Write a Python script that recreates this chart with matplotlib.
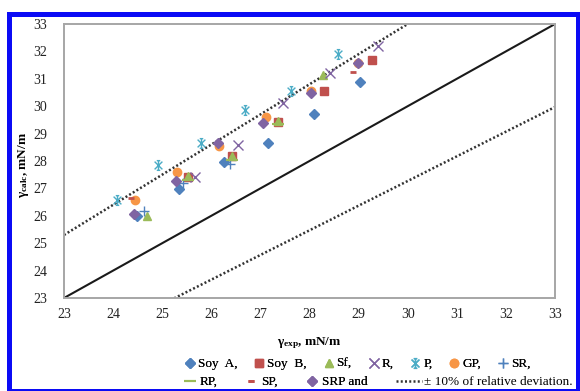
import matplotlib
matplotlib.use("Agg")
import matplotlib.pyplot as plt
import numpy as np
from matplotlib.path import Path
from matplotlib.lines import Line2D
from matplotlib.patches import Rectangle

plt.rcParams['font.family'] = ['Liberation Serif', 'DejaVu Serif']
plt.rcParams['mathtext.fontset'] = 'custom'
plt.rcParams['mathtext.rm'] = 'Liberation Serif'
plt.rcParams['mathtext.it'] = 'Liberation Serif:italic'
plt.rcParams['mathtext.bf'] = 'Liberation Serif:bold'

# ---- data ----
soyA_x = [24.49, 25.35, 26.26, 27.15, 28.09, 29.03]
soyA_y = [25.98, 26.96, 27.97, 28.66, 29.73, 30.89]
soyB_x = [25.53, 26.43, 27.35, 28.30, 29.27]
soyB_y = [27.42, 28.17, 29.43, 30.56, 31.68]
sf_x = [24.70, 25.53, 26.43, 27.35, 28.28]
sf_y = [25.98, 27.45, 28.20, 29.45, 31.14]
r_x = [25.67, 26.55, 27.47, 28.42, 29.40]
r_y = [27.42, 28.60, 30.12, 31.20, 32.20]
p_x = [24.07, 24.92, 25.79, 26.69, 27.62, 28.59]
p_y = [26.59, 27.84, 28.64, 29.86, 30.54, 31.90]
gp_x = [24.45, 25.31, 26.16, 27.11, 28.03, 28.99]
gp_y = [26.56, 27.60, 28.54, 29.59, 30.55, 31.58]
sr_x = [24.62, 25.43, 26.38]
sr_y = [26.17, 27.18, 27.88]
rp_x = [25.53, 26.43, 27.35]
rp_y = [27.30, 28.05, 29.35]
sp_x = [24.36, 28.88]
sp_y = [26.66, 31.26]
srp_x = [24.43, 25.28, 26.14, 27.06, 28.03, 28.99]
srp_y = [26.08, 27.27, 28.64, 29.39, 30.50, 31.56]

axis_min, axis_max = 23, 33
ticks = list(range(23, 34))
dev_hi = 1.10
dev_lo = 0.90

# ---- figure ----
W, H = 580, 391
fig = plt.figure(figsize=(W / 100, H / 100), dpi=100)
ax = fig.add_axes([64 / W, 1 - 298 / H, 491 / W, 274 / H])

DOT = (0, (0.8, 0.9))
# reference lines
xl = np.array([axis_min, axis_max], dtype=float)
ax.plot(xl, xl, color='#1a1a1a', lw=1.5, zorder=1)
ax.plot(xl, dev_hi * xl, color='#333333', lw=1.8, ls=DOT, zorder=1)
ax.plot(xl, dev_lo * xl + 0.27, color='#333333', lw=1.8, ls=DOT, zorder=1)

star = Path([(-1, -1), (1, 1), (-1, 1), (1, -1), (0, -1.25), (0, 1.25),
             (-0.45, 1.25), (0.45, 1.25), (-0.45, -1.25), (0.45, -1.25)],
            [Path.MOVETO, Path.LINETO] * 5)

ms = 6
h_soyA, = ax.plot(soyA_x, soyA_y, 'D', color='#4F81BD', ms=5.3, label='Soy  A,')
h_soyB, = ax.plot(soyB_x, soyB_y, 's', color='#C0504D', ms=ms, label='Soy  B,')
h_sf, = ax.plot(sf_x, sf_y, '^', color='#9BBB59', ms=ms, label='Sf,')
h_r, = ax.plot(r_x, r_y, 'x', color='#8064A2', ms=7, mew=1.0, label='R,')
h_p, = ax.plot(p_x, p_y, ls='none', marker=star, color='#4BACC6', mfc='none',
               ms=7, mew=1.0, label='P,')
h_gp, = ax.plot(gp_x, gp_y, 'o', color='#F79646', ms=ms, label='GP,')
h_sr, = ax.plot(sr_x, sr_y, '+', color='#4F81BD', ms=7, mew=1.0, label='SR,')
h_rp, = ax.plot(rp_x, rp_y, '_', color='#9BBB59', ms=8, mew=1.5, label='RP,')
h_sp, = ax.plot(sp_x, sp_y, '_', color='#C0504D', ms=4, mew=2.0, label='SP,')
h_srp, = ax.plot(srp_x, srp_y, 'D', color='#8064A2', ms=5.3, label='SRP and')

ax.set_xlim(axis_min, axis_max)
ax.set_ylim(axis_min, axis_max)
ax.set_xticks(ticks)
ax.set_yticks(ticks)
ax.tick_params(length=0, labelsize=10, colors='#222222')
ax.tick_params(axis='x', pad=7)
ax.tick_params(axis='y', pad=12)
for s in ax.spines.values():
    s.set_color('#a6a6a6')
    s.set_linewidth(1.4)

ax.set_xlabel(r'γ$_{\mathbf{exp}}$, mN/m', fontsize=9.5, fontweight='bold')
ax.set_ylabel(r'γ$_{\mathbf{calc}}$, mN/m', fontsize=9.5, fontweight='bold')
ax.xaxis.set_label_coords(0.5, (298 - 335) / 274)
ax.yaxis.set_label_coords((31 - 64) / 491, (298 - 165) / 274)

# legends (two rows, flowing like the original)
common = dict(loc='center left', frameon=False, borderpad=0, borderaxespad=0,
              fontsize=9.5, numpoints=1)
leg1 = fig.legend(handles=[h_soyA, h_soyB, h_sf, h_r, h_p, h_gp, h_sr],
                  bbox_to_anchor=(186 / W, 1 - 364 / H), ncol=7,
                  handlelength=0.6, handletextpad=0.3, columnspacing=1.35, **common)
leg2 = fig.legend(handles=[h_rp, h_sp, h_srp],
                  bbox_to_anchor=(184 / W, 1 - 382 / H), ncol=3,
                  handlelength=0.9, handletextpad=0.3, columnspacing=2.1, **common)
dot_handle = Line2D([0], [0], color='#333333', lw=1.8, ls=DOT)
leg3 = fig.legend(handles=[dot_handle], labels=['± 10% of relative deviation.'],
                  bbox_to_anchor=(396 / W, 1 - 382 / H),
                  handlelength=2.0, handletextpad=0.15, **common)
fig.add_artist(leg1)
fig.add_artist(leg2)

# blue frame
blue = '#0b0bf5'
def px_rect(x0, y0, x1, y1):
    fig.add_artist(Rectangle((x0 / W, 1 - y1 / H), (x1 - x0) / W, (y1 - y0) / H,
                             transform=fig.transFigure, color=blue, lw=0, zorder=10))
px_rect(7, 12, 580, 16.5)
px_rect(7, 12, 12, 391)
px_rect(576, 12, 580, 391)
px_rect(7, 389, 580, 391)

fig.savefig('out.png', dpi=100)
